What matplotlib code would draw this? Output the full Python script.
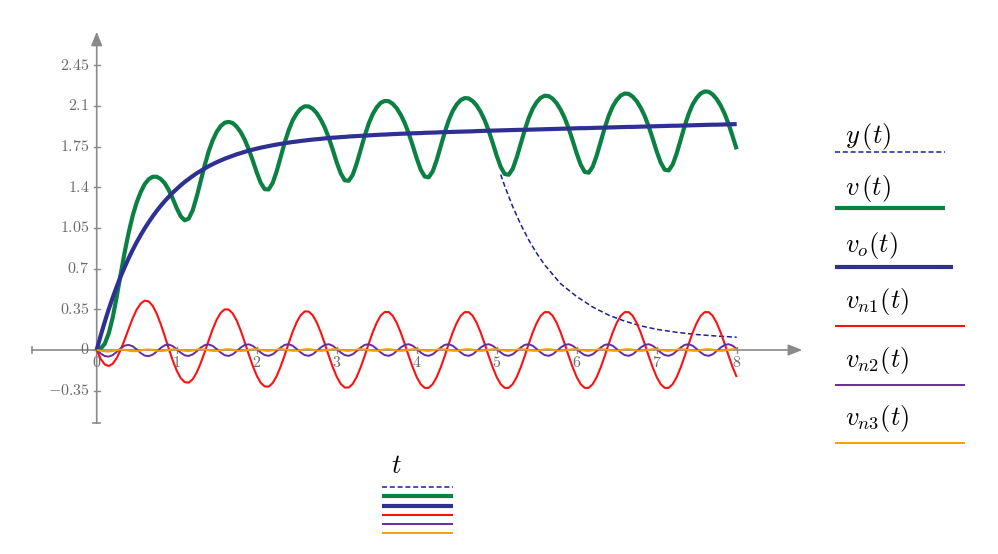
import numpy as np
import matplotlib
matplotlib.use('Agg')
import matplotlib.pyplot as plt
from matplotlib.lines import Line2D

plt.rcParams['mathtext.fontset'] = 'cm'
plt.rcParams['font.family'] = 'DejaVu Serif'

# sample times (step 0.05)
t = np.linspace(0, 8, 161)

v = np.array([
    0.000, 0.012, 0.053, 0.142, 0.279, 0.458, 0.654, 0.843, 1.012, 1.156,
    1.271, 1.359, 1.427, 1.470, 1.491, 1.491, 1.472, 1.436, 1.378, 1.304,
    1.221, 1.151, 1.116, 1.131, 1.202, 1.319, 1.456, 1.590, 1.710, 1.805,
    1.877, 1.927, 1.956, 1.963, 1.953, 1.922, 1.875, 1.810, 1.729, 1.632,
    1.529, 1.439, 1.384, 1.382, 1.438, 1.539, 1.662, 1.785, 1.892, 1.977,
    2.036, 2.077, 2.097, 2.096, 2.076, 2.039, 1.984, 1.916, 1.828, 1.725,
    1.615, 1.521, 1.461, 1.456, 1.507, 1.605, 1.724, 1.844, 1.948, 2.030,
    2.088, 2.127, 2.143, 2.141, 2.119, 2.080, 2.025, 1.954, 1.864, 1.760,
    1.649, 1.553, 1.493, 1.486, 1.537, 1.634, 1.753, 1.872, 1.976, 2.057,
    2.113, 2.151, 2.168, 2.165, 2.142, 2.104, 2.048, 1.977, 1.887, 1.782,
    1.672, 1.576, 1.515, 1.508, 1.559, 1.656, 1.774, 1.892, 1.996, 2.077,
    2.133, 2.171, 2.188, 2.185, 2.162, 2.123, 2.067, 1.996, 1.906, 1.801,
    1.691, 1.595, 1.533, 1.526, 1.577, 1.674, 1.792, 1.911, 2.015, 2.096,
    2.152, 2.190, 2.207, 2.204, 2.180, 2.141, 2.085, 2.014, 1.924, 1.819,
    1.709, 1.613, 1.552, 1.545, 1.596, 1.692, 1.810, 1.929, 2.033, 2.114,
    2.170, 2.208, 2.225, 2.222, 2.199, 2.159, 2.103, 2.032, 1.942, 1.837,
    1.727])

vo = np.array([
    0.000, 0.125, 0.241, 0.350, 0.451, 0.545, 0.633, 0.714, 0.791, 0.862,
    0.928, 0.989, 1.047, 1.100, 1.150, 1.197, 1.240, 1.281, 1.318, 1.354,
    1.386, 1.417, 1.446, 1.472, 1.497, 1.521, 1.542, 1.562, 1.582, 1.599,
    1.616, 1.631, 1.646, 1.659, 1.672, 1.684, 1.695, 1.705, 1.715, 1.724,
    1.733, 1.741, 1.748, 1.755, 1.762, 1.768, 1.774, 1.780, 1.785, 1.790,
    1.794, 1.799, 1.803, 1.807, 1.811, 1.814, 1.817, 1.821, 1.824, 1.827,
    1.829, 1.832, 1.834, 1.837, 1.839, 1.841, 1.843, 1.845, 1.847, 1.849,
    1.851, 1.853, 1.854, 1.856, 1.858, 1.859, 1.861, 1.862, 1.863, 1.865,
    1.866, 1.867, 1.869, 1.870, 1.871, 1.872, 1.874, 1.875, 1.876, 1.877,
    1.878, 1.879, 1.880, 1.881, 1.882, 1.884, 1.885, 1.886, 1.887, 1.888,
    1.889, 1.890, 1.891, 1.892, 1.893, 1.894, 1.895, 1.895, 1.896, 1.897,
    1.898, 1.899, 1.900, 1.901, 1.902, 1.903, 1.904, 1.905, 1.906, 1.907,
    1.908, 1.909, 1.909, 1.910, 1.911, 1.912, 1.913, 1.914, 1.915, 1.916,
    1.917, 1.918, 1.919, 1.920, 1.920, 1.921, 1.922, 1.923, 1.924, 1.925,
    1.926, 1.927, 1.928, 1.929, 1.930, 1.930, 1.931, 1.932, 1.933, 1.934,
    1.935, 1.936, 1.937, 1.938, 1.939, 1.939, 1.940, 1.941, 1.942, 1.943,
    1.944])

vn1 = np.array([
    0.000, -0.077, -0.124, -0.138, -0.119, -0.070, 0.002, 0.090, 0.183, 0.273,
    0.348, 0.400, 0.425, 0.418, 0.380, 0.313, 0.224, 0.121, 0.013, -0.090,
    -0.177, -0.242, -0.277, -0.281, -0.252, -0.194, -0.113, -0.018, 0.083, 0.179,
    0.261, 0.320, 0.350, 0.348, 0.315, 0.253, 0.168, 0.068, -0.036, -0.135,
    -0.220, -0.282, -0.314, -0.315, -0.284, -0.224, -0.141, -0.044, 0.059, 0.157,
    0.240, 0.300, 0.332, 0.331, 0.299, 0.238, 0.154, 0.056, -0.048, -0.146,
    -0.230, -0.291, -0.323, -0.323, -0.292, -0.231, -0.148, -0.050, 0.053, 0.151,
    0.235, 0.296, 0.327, 0.327, 0.295, 0.234, 0.151, 0.053, -0.051, -0.149,
    -0.233, -0.294, -0.326, -0.326, -0.294, -0.233, -0.150, -0.052, 0.052, 0.150,
    0.233, 0.294, 0.326, 0.326, 0.294, 0.233, 0.150, 0.052, -0.052, -0.150,
    -0.233, -0.294, -0.326, -0.326, -0.294, -0.233, -0.150, -0.052, 0.052, 0.150,
    0.233, 0.294, 0.326, 0.326, 0.294, 0.233, 0.150, 0.052, -0.052, -0.150,
    -0.233, -0.294, -0.326, -0.326, -0.294, -0.233, -0.150, -0.052, 0.052, 0.150,
    0.233, 0.294, 0.326, 0.326, 0.294, 0.233, 0.150, 0.052, -0.052, -0.150,
    -0.233, -0.294, -0.326, -0.326, -0.294, -0.233, -0.150, -0.052, 0.052, 0.150,
    0.233, 0.294, 0.326, 0.326, 0.294, 0.233, 0.150, 0.052, -0.052, -0.150,
    -0.233])

vn2 = np.array([
    0.000, -0.030, -0.052, -0.057, -0.044, -0.016, 0.015, 0.038, 0.044, 0.032,
    0.005, -0.026, -0.048, -0.053, -0.040, -0.013, 0.018, 0.041, 0.047, 0.034,
    0.007, -0.023, -0.046, -0.051, -0.038, -0.011, 0.020, 0.042, 0.048, 0.035,
    0.008, -0.022, -0.045, -0.051, -0.037, -0.010, 0.021, 0.043, 0.049, 0.036,
    0.009, -0.021, -0.044, -0.050, -0.037, -0.009, 0.021, 0.044, 0.050, 0.037,
    0.009, -0.021, -0.044, -0.050, -0.037, -0.009, 0.021, 0.044, 0.050, 0.037,
    0.009, -0.021, -0.044, -0.050, -0.037, -0.009, 0.021, 0.044, 0.050, 0.037,
    0.009, -0.021, -0.044, -0.050, -0.037, -0.009, 0.021, 0.044, 0.050, 0.037,
    0.009, -0.021, -0.044, -0.050, -0.037, -0.009, 0.021, 0.044, 0.050, 0.037,
    0.009, -0.021, -0.044, -0.050, -0.037, -0.009, 0.021, 0.044, 0.050, 0.037,
    0.009, -0.021, -0.044, -0.050, -0.037, -0.009, 0.021, 0.044, 0.050, 0.037,
    0.009, -0.021, -0.044, -0.050, -0.037, -0.009, 0.021, 0.044, 0.050, 0.037,
    0.009, -0.021, -0.044, -0.050, -0.037, -0.009, 0.021, 0.044, 0.050, 0.037,
    0.009, -0.021, -0.044, -0.050, -0.037, -0.009, 0.021, 0.044, 0.050, 0.037,
    0.009, -0.021, -0.044, -0.050, -0.037, -0.009, 0.021, 0.044, 0.050, 0.037,
    0.009, -0.021, -0.044, -0.050, -0.037, -0.009, 0.021, 0.044, 0.050, 0.037,
    0.009])

vn3 = np.array([
    0.000, -0.006, -0.012, -0.013, -0.009, -0.001, 0.004, 0.001, -0.006, -0.011,
    -0.010, -0.004, 0.003, 0.005, 0.001, -0.006, -0.010, -0.007, 0.000, 0.006,
    0.005, -0.001, -0.007, -0.009, -0.005, 0.003, 0.007, 0.004, -0.003, -0.008,
    -0.008, -0.002, 0.005, 0.007, 0.003, -0.005, -0.009, -0.006, 0.001, 0.007,
    0.007, 0.001, -0.006, -0.008, -0.003, 0.004, 0.008, 0.005, -0.002, -0.007,
    -0.007, -0.001, 0.006, 0.008, 0.003, -0.004, -0.008, -0.005, 0.002, 0.007,
    0.007, 0.001, -0.006, -0.008, -0.003, 0.004, 0.008, 0.005, -0.002, -0.007,
    -0.007, -0.001, 0.006, 0.008, 0.003, -0.004, -0.008, -0.005, 0.002, 0.007,
    0.007, 0.001, -0.006, -0.008, -0.003, 0.004, 0.008, 0.005, -0.002, -0.007,
    -0.007, -0.001, 0.006, 0.008, 0.003, -0.004, -0.008, -0.005, 0.002, 0.007,
    0.007, 0.001, -0.006, -0.008, -0.003, 0.004, 0.008, 0.005, -0.002, -0.007,
    -0.007, -0.001, 0.006, 0.008, 0.003, -0.004, -0.008, -0.005, 0.002, 0.007,
    0.007, 0.001, -0.006, -0.008, -0.003, 0.004, 0.008, 0.005, -0.002, -0.007,
    -0.007, -0.001, 0.006, 0.008, 0.003, -0.004, -0.008, -0.005, 0.002, 0.007,
    0.007, 0.001, -0.006, -0.008, -0.003, 0.004, 0.008, 0.005, -0.002, -0.007,
    -0.007, -0.001, 0.006, 0.008, 0.003, -0.004, -0.008, -0.005, 0.002, 0.007,
    0.007])

# y(t) only exists from ~5 on
t_y = np.array([5.05, 5.1, 5.2, 5.3, 5.4, 5.5, 5.6, 5.8, 6.0, 6.2,
                6.4, 6.6, 6.8, 7.0, 7.25, 7.5, 7.75, 8.0])
y = np.array([1.510, 1.411, 1.234, 1.081, 0.947, 0.832, 0.732, 0.570, 0.460, 0.370,
              0.300, 0.248, 0.208, 0.178, 0.152, 0.133, 0.120, 0.110])

x_ticks = [0, 1, 2, 3, 4, 5, 6, 7, 8]
y_ticks = [-0.35, 0, 0.35, 0.7, 1.05, 1.4, 1.75, 2.1, 2.45]
y_tick_labels = ['-0.35', '0', '0.35', '0.7', '1.05', '1.4', '1.75', '2.1', '2.45']

legend_labels = [r'$y\,(t)$', r'$v\,(t)$', r'$v_o(t)$',
                 r'$v_{n1}(t)$', r'$v_{n2}(t)$', r'$v_{n3}(t)$']

# trace styles: color, linewidth, linestyle
styles = [('#1f1f96', 1.1, (0, (3.3, 1.8))),
          ('#0b8043', 3.0, '-'),
          ('#2e3192', 3.0, '-'),
          ('#ff1010', 1.5, '-'),
          ('#6a2c9c', 1.4, '-'),
          ('#f5a000', 1.4, '-')]
series = [(t_y, y), (t, v), (t, vo), (t, vn1), (t, vn2), (t, vn3)]

W, H = 998, 554
fig = plt.figure(figsize=(W / 100, H / 100), dpi=100)
ax = fig.add_axes([0, 0, 1, 1])
# origin sits at pixel (96.7, 350): 80 px per unit in t, 116.2 px per unit in value
ax.set_xlim(-96.7 / 80, (W - 96.7) / 80)
ax.set_ylim(-(H - 350) / 116.2, 350 / 116.2)
ax.axis('off')

axis_col = '#8a8a8a'
label_col = '#6a6a6a'

# axes through the origin with arrow heads
arrow = dict(arrowstyle='-|>,head_length=0.7,head_width=0.28', color=axis_col,
             lw=1.2, mutation_scale=12, shrinkA=0, shrinkB=0)
ax.annotate('', xy=(8.82, 0), xytext=(-0.81, 0), arrowprops=arrow, zorder=1)
ax.annotate('', xy=(0, 2.74), xytext=(0, -0.63), arrowprops=arrow, zorder=1)
ax.plot([-0.81, -0.81], [-0.03, 0.03], color=axis_col, lw=1.2, zorder=1)
ax.plot([-0.045, 0.045], [-0.63, -0.63], color=axis_col, lw=1.2, zorder=1)

for xt in x_ticks:
    ax.plot([xt, xt], [-0.026, 0.026], color=axis_col, lw=1.0, zorder=1)
    ax.text(xt, -0.105, '$%d$' % xt, ha='center', va='center', fontsize=11.5, color=label_col)
for yt, lab in zip(y_ticks, y_tick_labels):
    ax.plot([-0.0375, 0.0375], [yt, yt], color=axis_col, lw=1.0, zorder=1)
    ax.text(-0.09, yt, '$%s$' % lab, ha='right', va='center', fontsize=11.5, color=label_col)

for i, ((xs, ys), (c, lw, ls)) in enumerate(zip(series, styles)):
    ax.plot(xs, ys, color=c, lw=lw, linestyle=ls, zorder=3 + i, solid_capstyle='butt')

# legend on the right: label above a line sample
base_y = [143, 195, 252, 308, 367, 425]
line_y = [152, 207.5, 267, 326, 385, 443]
line_end = [945, 945, 953, 965, 965, 965]
for lab, by, ly, le, (c, lw, ls) in zip(legend_labels, base_y, line_y, line_end, styles):
    fig.text(845 / W, 1 - by / H, lab, fontsize=19, ha='left', va='baseline', color='black')
    fig.add_artist(Line2D([835 / W, le / W], [1 - ly / H] * 2, color=c, lw=lw,
                          linestyle=ls, transform=fig.transFigure, solid_capstyle='butt'))

# x-axis variable with the stacked trace samples below it
fig.text(391 / W, 1 - 473 / H, r'$t$', fontsize=19, ha='left', va='baseline', color='black')
for yy, (c, lw, ls) in zip([487, 496, 505.5, 514.5, 523.5, 533], styles):
    fig.add_artist(Line2D([382 / W, 453 / W], [1 - yy / H] * 2, color=c, lw=lw,
                          linestyle=ls, transform=fig.transFigure, solid_capstyle='butt'))

fig.savefig('out.png', dpi=100)
